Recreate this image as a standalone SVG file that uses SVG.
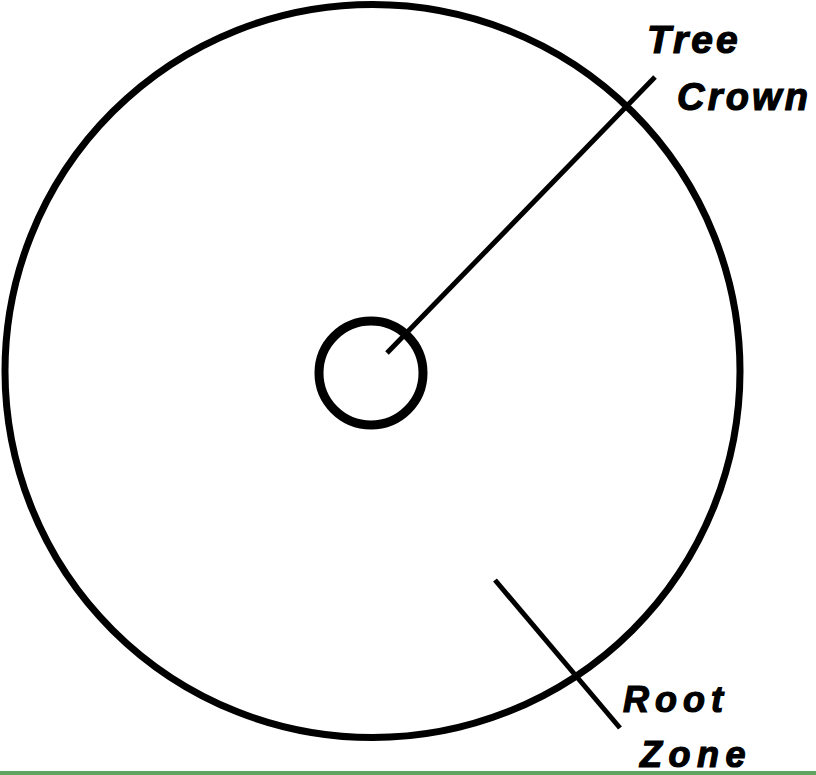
<svg xmlns="http://www.w3.org/2000/svg" width="816" height="775" viewBox="0 0 816 775">
<style>
.ln{stroke:#000;fill:none}
.lbl{font-family:"Liberation Sans",Arial,sans-serif;font-weight:bold;font-style:italic;fill:#000;stroke:#000;stroke-width:1.2}
</style>
<rect width="816" height="775" fill="#fff"/>
<g id="crown">
<ellipse class="ln" cx="372.5" cy="371" rx="367.5" ry="366.5" stroke-width="7"/>
</g>
<g id="trunk">
<circle class="ln" cx="371" cy="373" r="52" stroke-width="9"/>
</g>
<g id="connectors">
<line class="ln" x1="387" y1="353" x2="655" y2="77" stroke-width="5"/>
<line class="ln" x1="495" y1="580" x2="620" y2="728" stroke-width="5"/>
</g>
<g id="label-tree-crown">
<text class="lbl" x="647" y="53" font-size="39" letter-spacing="3">Tree</text>
<text class="lbl" x="677" y="110" font-size="38" letter-spacing="3.2">Crown</text>
</g>
<g id="label-root-zone">
<text class="lbl" x="623" y="712" font-size="36" letter-spacing="6">Root</text>
<text class="lbl" x="640" y="767" font-size="36" letter-spacing="6.5">Zone</text>
</g>
<rect x="0" y="771" width="816" height="4" fill="#60a462"/>
</svg>
